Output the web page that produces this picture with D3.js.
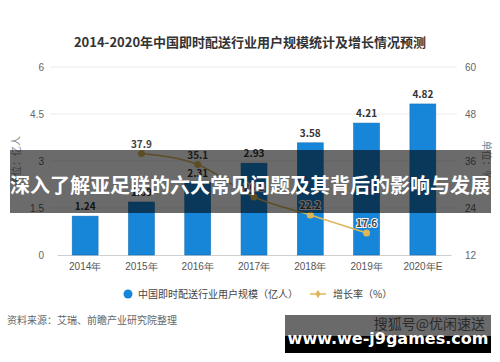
<!DOCTYPE html>
<html>
<head>
<meta charset="utf-8">
<script src="https://cdn.jsdelivr.net/npm/d3@7"></script>
<style>
  html, body { margin: 0; padding: 0; background: #fff; }
  svg { display: block; font-family: "Noto Sans CJK SC", "Noto Sans", sans-serif; }
</style>
</head>
<body>
<div id="chart"></div>
<script>
// ---------------------------
// Données
// ---------------------------
const years = ['2014年', '2015年', '2016年', '2017年', '2018年', '2019年', '2020年E'];
const users = [1.24, 1.69, 2.31, 2.93, 3.58, 4.21, 4.82];          // 亿人
const growth = [null, 37.9, 35.1, 26.8, 22.2, 17.6, null];         // %
const growthLabels = [null, '37.9', '35.1', '26.8', '22.2', '17.6', null];
const leftTicks = [0, 1.5, 3, 4.5, 6];
const rightTicks = [12, 24, 36, 48, 60];

const width = 500, height = 362;
const svg = d3.select('#chart').append('svg')
  .attr('width', width)
  .attr('height', height);

// ---------------------------
// Echelles
// ---------------------------
const x = d3.scaleBand().domain(years).range([57, 451]).paddingInner(0.54).paddingOuter(0.27);
const yL = d3.scaleLinear().domain([0, 6]).range([255, 67]);
const yR = d3.scaleLinear().domain([12, 60]).range([255, 67]);

// titre
svg.append('text')
  .attr('x', 250).attr('y', 47)
  .attr('text-anchor', 'middle')
  .style('font-size', '13px').style('font-weight', 'bold').style('fill', '#333')
  .text('2014-2020年中国即时配送行业用户规模统计及增长情况预测');

// grille
svg.append('g').selectAll('line')
  .data(leftTicks.slice(1))
  .join('line')
  .attr('x1', 50).attr('x2', 457)
  .attr('y1', d => yL(d)).attr('y2', d => yL(d))
  .attr('stroke', '#ececec').attr('stroke-width', 1);

// axe gauche
const axL = svg.append('g').attr('transform', 'translate(46,0)')
  .call(d3.axisLeft(yL).tickValues(leftTicks).tickSize(0).tickPadding(2).tickFormat(d3.format('')));
axL.select('.domain').remove();
axL.selectAll('text').style('font-size', '10px').style('fill', '#666').style('font-family', 'inherit');

// axe droit
const axR = svg.append('g').attr('transform', 'translate(463,0)')
  .call(d3.axisRight(yR).tickValues(rightTicks).tickSize(0).tickPadding(2));
axR.select('.domain').remove();
axR.selectAll('text').style('font-size', '10px').style('fill', '#666').style('font-family', 'inherit');

// axe bas
const axB = svg.append('g').attr('transform', 'translate(0,255)')
  .call(d3.axisBottom(x).tickSize(0).tickPadding(8));
axB.select('.domain').attr('stroke', '#cfcfcf');
axB.selectAll('text').style('font-size', '10px').style('fill', '#555').style('font-family', 'inherit');

// titres d'axes
svg.append('text')
  .attr('transform', 'translate(20,161) rotate(-90)')
  .attr('text-anchor', 'middle')
  .style('font-size', '10px').style('fill', '#888')
  .text('单位：亿人');
svg.append('text')
  .attr('transform', 'translate(483,160) rotate(90)')
  .attr('text-anchor', 'middle')
  .style('font-size', '10px').style('fill', '#888')
  .text('单位：%');

// barres
svg.append('g').selectAll('rect')
  .data(users)
  .join('rect')
  .attr('x', (d, i) => x(years[i]))
  .attr('y', d => yL(d))
  .attr('width', x.bandwidth())
  .attr('height', d => yL(0) - yL(d))
  .attr('fill', '#1886d8')
  .attr('stroke', '#1670b6').attr('stroke-width', 0.6);

svg.append('g').selectAll('text')
  .data(users)
  .join('text')
  .attr('x', (d, i) => x(years[i]) + x.bandwidth() / 2)
  .attr('y', d => yL(d) - 6)
  .attr('text-anchor', 'middle')
  .style('font-size', '10px').style('font-weight', 'bold').style('fill', '#333')
  .text(d => d.toFixed(2));

// courbe
const pts = growth.map((v, i) => ({ i, v })).filter(d => d.v !== null);
const cx = d => x(years[d.i]) + x.bandwidth() / 2;

svg.append('path')
  .datum(pts)
  .attr('d', d3.line().x(cx).y(d => yR(d.v)).curve(d3.curveMonotoneX))
  .attr('fill', 'none').attr('stroke', '#d9b85a').attr('stroke-width', 1.5);

svg.append('g').selectAll('circle')
  .data(pts)
  .join('circle')
  .attr('cx', cx).attr('cy', d => yR(d.v)).attr('r', 3.5)
  .attr('fill', '#dcb75a');

svg.append('g').selectAll('text')
  .data(pts)
  .join('text')
  .attr('x', cx).attr('y', d => yR(d.v) - 6)
  .attr('text-anchor', 'middle')
  .attr('paint-order', 'stroke')
  .attr('stroke', '#fff').attr('stroke-width', 2)
  .style('font-size', '10px').style('font-weight', 'bold').style('fill', '#444')
  .text(d => growthLabels[d.i]);

// légende
const lg = svg.append('g');
lg.append('circle').attr('cx', 128).attr('cy', 294).attr('r', 4.5).attr('fill', '#1886d8');
lg.append('text').attr('x', 138).attr('y', 298)
  .style('font-size', '10px').style('fill', '#444')
  .text('中国即时配送行业用户规模（亿人）');
lg.append('line').attr('x1', 310).attr('x2', 326).attr('y1', 294).attr('y2', 294)
  .attr('stroke', '#dcb75a').attr('stroke-width', 1.5);
lg.append('path').attr('d', d3.symbol(d3.symbolDiamond, 22)()).attr('transform', 'translate(318,294)')
  .attr('fill', '#dcb75a');
lg.append('text').attr('x', 333).attr('y', 298)
  .style('font-size', '10px').style('fill', '#444')
  .text('增长率（%）');

// source
svg.append('text').attr('x', 7).attr('y', 324)
  .style('font-size', '10px').style('fill', '#666')
  .text('资料来源：艾瑞、前瞻产业研究院整理');

// bandeau
svg.append('rect').attr('x', 10).attr('y', 150).attr('width', 481).attr('height', 63)
  .attr('fill', 'rgba(0,0,0,0.58)');
svg.append('text').attr('x', 250).attr('y', 193)
  .attr('text-anchor', 'middle')
  .style('font-size', '20px').style('font-weight', 'bold').style('fill', '#fff')
  .text('深入了解亚足联的六大常见问题及其背后的影响与发展');

// filigrane + url
svg.append('rect').attr('x', 285).attr('y', 315).attr('width', 206).attr('height', 21).attr('fill', '#6a6a6a');
svg.append('rect').attr('x', 285).attr('y', 336).attr('width', 206).attr('height', 17).attr('fill', '#000');
svg.append('text').attr('x', 485).attr('y', 329)
  .attr('text-anchor', 'end')
  .style('font-size', '14px').style('fill', '#2a2a2a')
  .text('搜狐号@优闲速送');
svg.append('text').attr('x', 388).attr('y', 344)
  .attr('text-anchor', 'middle')
  .style('font-size', '16px').style('font-weight', 'bold').style('fill', '#fff')
  .style('font-family', '"DejaVu Sans", sans-serif')
  .text('www.we-j9games.com');
</script>
</body>
</html>
